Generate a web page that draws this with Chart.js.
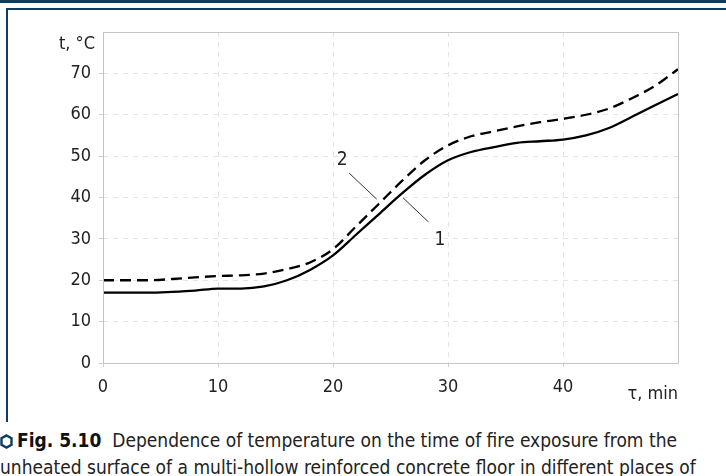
<!DOCTYPE html>
<html>
<head>
<meta charset="utf-8">
<script src="https://cdn.jsdelivr.net/npm/chart.js@4/dist/chart.umd.min.js"></script>
<style>
	body{margin:0;background:#fff;width:726px;height:476px;overflow:hidden;position:relative;font-family:"Liberation Sans Narrow","DejaVu Sans Condensed",sans-serif;}
	.bar-top{position:absolute;left:0;top:0;width:726px;height:3px;background:#0e3d5e;}
	.frame{position:absolute;left:6px;top:8px;width:730px;height:414px;border-top:2px solid #0e3d5e;border-left:2px solid #0e3d5e;box-sizing:border-box;}
	#wrap{position:absolute;left:0;top:0;width:726px;height:420px;}
	.caption{position:absolute;left:0;top:427px;width:740px;font-size:19px;line-height:27px;color:#222;white-space:nowrap;}
	.caption b{color:#111;}
	.caption svg{vertical-align:-2px;margin-right:4px;}
</style>
</head>
<body>
<div class="bar-top"></div>
<div class="frame"></div>
<div id="wrap"><canvas id="chart"></canvas></div>
<div class="caption">
	<svg width="13" height="15" viewBox="0 0 13 15"><polygon points="6.5,1.5 11.5,4.3 11.5,10.7 6.5,13.5 1.5,10.7 1.5,4.3" fill="none" stroke="#0e3d5e" stroke-width="2.4"/></svg><b>Fig. 5.10</b>&nbsp; Dependence of temperature on the time of fire exposure from the<br>
	unheated surface of a multi-hollow reinforced concrete floor in different places of
</div>
<script>
const times = [0, 2, 4, 6, 8, 10, 12, 14, 16, 18, 20, 22, 24, 26, 28, 30, 32, 34, 36, 38, 40, 42, 44, 46, 48, 50];
const curveOne = [17, 17, 17, 17.2, 17.5, 18, 18, 18.5, 20, 22.5, 26, 31, 36, 41, 45.5, 49, 51, 52.2, 53.2, 53.6, 54, 55, 56.8, 59.5, 62.3, 65];
const curveTwo = [20, 20, 20, 20.3, 20.7, 21, 21.2, 21.6, 22.7, 24.3, 27.5, 33, 38.5, 44, 49, 52.6, 54.8, 56, 57.2, 58.2, 59, 60, 61.5, 64, 67, 71];
const yTicks = [0, 10, 20, 30, 40, 50, 60, 70];
const xTicks = [0, 10, 20, 30, 40];
const curveLabels = [
	{text: '2', at: [20.8, 49], from: [21.4, 45.9], to: [23.8, 39.6]},
	{text: '1', at: [29.3, 29.7], from: [26.1, 39.9], to: [28.3, 34.1]}
];

const fontFamily = '"Liberation Sans Narrow","DejaVu Sans Condensed",sans-serif';

function toPoints(values){
	return times.map((t, i) => ({x: t, y: values[i]}));
}

const extras = {
	id: 'extras',
	afterDraw(chart){
		const ctx = chart.ctx;
		const area = chart.chartArea;
		const xs = chart.scales.x;
		const ys = chart.scales.y;
		ctx.save();
		ctx.setLineDash([]);
		ctx.strokeStyle = '#c4c4c4';
		ctx.lineWidth = 1;
		ctx.beginPath();
		ctx.moveTo(area.left + 0.5, area.bottom + 0.5);
		ctx.lineTo(area.left + 0.5, area.top + 0.5);
		ctx.lineTo(area.right + 0.5, area.top + 0.5);
		ctx.lineTo(area.right + 0.5, area.bottom + 0.5);
		ctx.lineTo(area.left + 0.5, area.bottom + 0.5);
		ctx.stroke();

		ctx.fillStyle = '#222';
		ctx.font = '18px ' + fontFamily;
		ctx.textBaseline = 'middle';
		ctx.textAlign = 'right';
		ctx.fillText('t, \u00b0C', area.left - 8, ys.getPixelForValue(77));
		ctx.fillText('\u03c4, min', area.right, xs.bottom - 26);

		ctx.strokeStyle = '#333';
		ctx.lineWidth = 1;
		ctx.textAlign = 'center';
		ctx.font = '19px ' + fontFamily;
		curveLabels.forEach(l => {
			ctx.beginPath();
			ctx.moveTo(xs.getPixelForValue(l.from[0]), ys.getPixelForValue(l.from[1]));
			ctx.lineTo(xs.getPixelForValue(l.to[0]), ys.getPixelForValue(l.to[1]));
			ctx.stroke();
			ctx.fillText(l.text, xs.getPixelForValue(l.at[0]), ys.getPixelForValue(l.at[1]));
		});
		ctx.restore();
	}
};

const gridStyle = {color: '#e4e4e4', tickLength: 4, tickColor: '#d0d0d0', tickBorderDash: []};

new Chart(document.getElementById('chart'), {
	type: 'line',
	data: {
		datasets: [{
			label: '1',
			data: toPoints(curveOne),
			borderColor: '#000',
			borderWidth: 2.3,
			pointRadius: 0,
			cubicInterpolationMode: 'monotone'
		}, {
			label: '2',
			data: toPoints(curveTwo),
			borderColor: '#000',
			borderWidth: 2.3,
			borderDash: [11, 6],
			pointRadius: 0,
			cubicInterpolationMode: 'monotone'
		}]
	},
	options: {
		responsive: true,
		maintainAspectRatio: false,
		animation: false,
		layout: {padding: {top: 32, right: 48, left: 0, bottom: 0}},
		plugins: {legend: {display: false}, tooltip: {enabled: false}},
		scales: {
			x: {
				type: 'linear',
				min: 0,
				max: 50,
				afterFit(scale){ scale.height = 57; },
				afterBuildTicks(scale){ scale.ticks = xTicks.map(v => ({value: v})); },
				grid: gridStyle,
				border: {display: false, dash: [5, 5]},
				ticks: {color: '#222', font: {family: fontFamily, size: 18}, padding: 10, maxRotation: 0}
			},
			y: {
				min: 0,
				max: 80,
				afterFit(scale){ scale.width = 103; },
				afterBuildTicks(scale){ scale.ticks = yTicks.map(v => ({value: v})); },
				grid: gridStyle,
				border: {display: false, dash: [5, 5]},
				ticks: {color: '#222', font: {family: fontFamily, size: 18}, padding: 8}
			}
		}
	},
	plugins: [extras]
});
</script>
</body>
</html>
